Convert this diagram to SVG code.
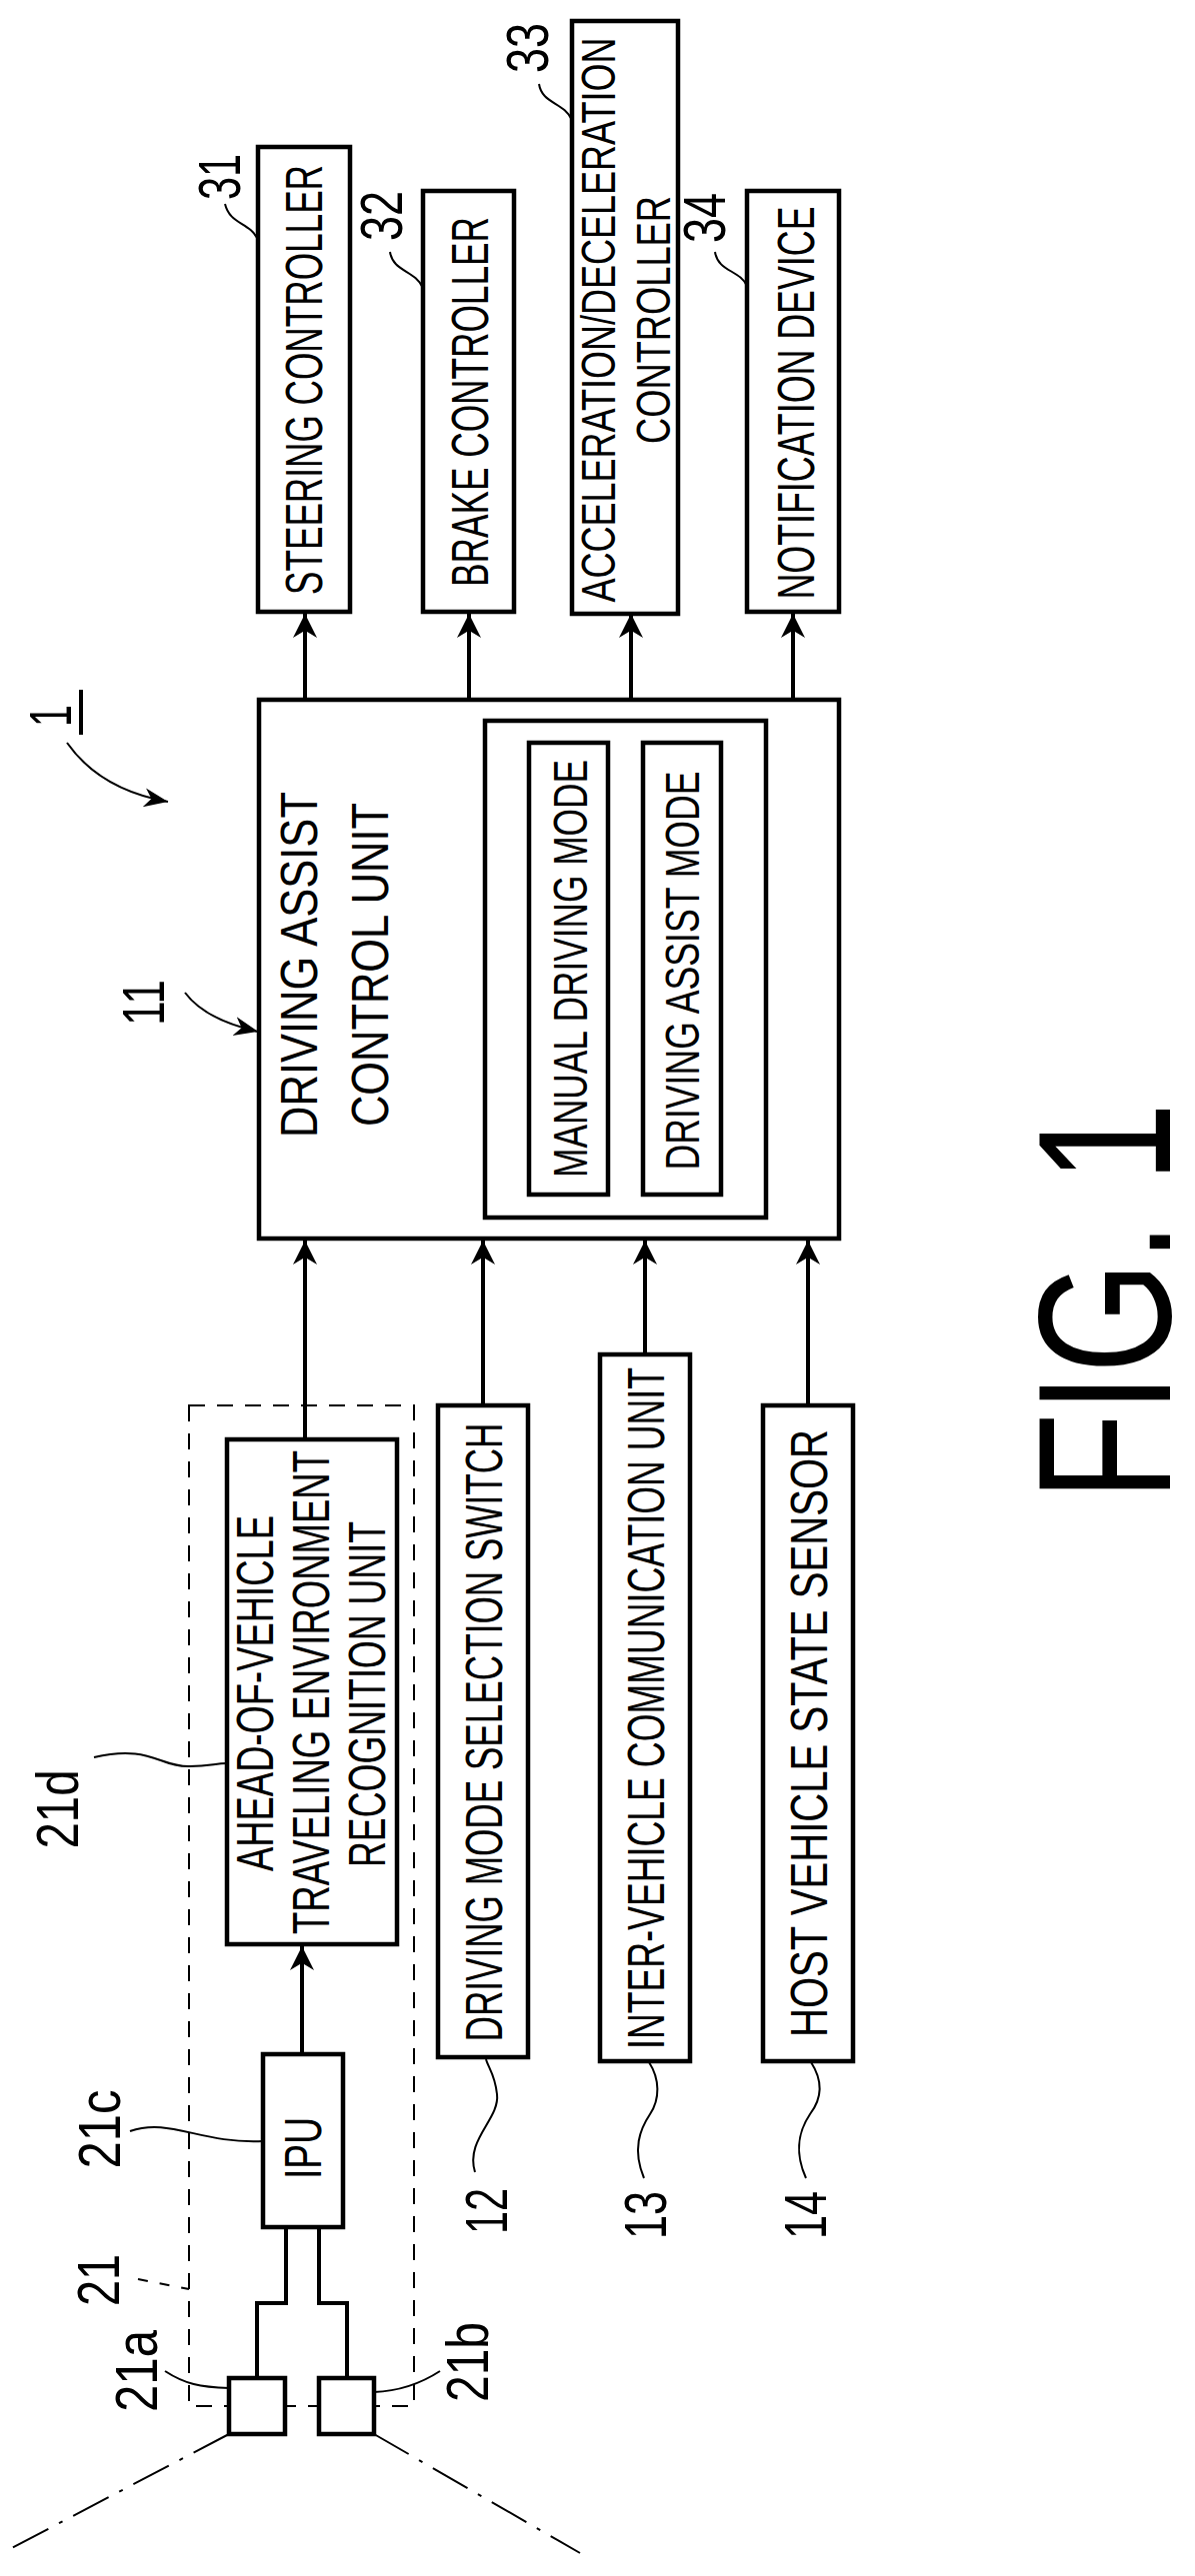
<svg xmlns="http://www.w3.org/2000/svg" width="1195" height="2577" viewBox="0 0 1195 2577">
<style>
.b{fill:#fff;stroke:#000;stroke-width:4.5}
.t{font-family:"Liberation Sans",Arial,sans-serif;font-size:52px;text-anchor:middle;dominant-baseline:central;fill:#000}
.s{font-size:48px}
.n{font-family:"Liberation Sans",Arial,sans-serif;font-size:60px;text-anchor:middle;dominant-baseline:central;fill:#000}
.c{fill:none;stroke:#000;stroke-width:4}
.l{fill:none;stroke:#000;stroke-width:2}
</style>
<defs>
<marker id="ah" viewBox="0 0 10 10" refX="10" refY="5" markerWidth="6" markerHeight="6" markerUnits="strokeWidth" orient="auto">
<path d="M0,0 L10,5 L0,10 L3,5 Z" fill="#000"/>
</marker>
<marker id="ah2" viewBox="0 0 10 10" refX="10" refY="5" markerWidth="12" markerHeight="12" markerUnits="strokeWidth" orient="auto">
<path d="M0,1 L10,5 L0,9 L3,5 Z" fill="#000"/>
</marker>
</defs>
<rect width="1195" height="2577" fill="#fff"/>

<g id="connectors">
<line class="c" x1="305" y1="700" x2="305" y2="614" marker-end="url(#ah)"/>
<line class="c" x1="469" y1="700" x2="469" y2="614" marker-end="url(#ah)"/>
<line class="c" x1="631" y1="700" x2="631" y2="614" marker-end="url(#ah)"/>
<line class="c" x1="793" y1="700" x2="793" y2="614" marker-end="url(#ah)"/>
<line class="c" x1="305" y1="1440" x2="305" y2="1241" marker-end="url(#ah)"/>
<line class="c" x1="483" y1="1406" x2="483" y2="1241" marker-end="url(#ah)"/>
<line class="c" x1="645" y1="1355" x2="645" y2="1241" marker-end="url(#ah)"/>
<line class="c" x1="808" y1="1406" x2="808" y2="1241" marker-end="url(#ah)"/>
<line class="c" x1="302" y1="2055" x2="302" y2="1947" marker-end="url(#ah)"/>
<polyline class="c" points="286,2228 286,2304 257,2304 257,2379"/>
<polyline class="c" points="319,2228 319,2304 347,2304 347,2379"/>
<line class="l" x1="229" y1="2435" x2="8" y2="2551" stroke-dasharray="40,12,4,12"/>
<line class="l" x1="374" y1="2435" x2="580" y2="2554" stroke-dasharray="40,12,4,12"/>
</g>

<g id="boundary-21">
<rect x="189" y="1406" width="225" height="1001" fill="none" stroke="#000" stroke-width="2" stroke-dasharray="16,12"/>
</g>

<g id="node-11">
<rect class="b" x="259" y="700" width="580" height="539"/>
<text class="t" transform="translate(299,965) rotate(-90)" textLength="346" lengthAdjust="spacingAndGlyphs">DRIVING ASSIST</text>
<text class="t" transform="translate(370,965) rotate(-90)" textLength="324" lengthAdjust="spacingAndGlyphs">CONTROL UNIT</text>
<rect class="b" x="485" y="721" width="281" height="497"/>
<rect class="b" x="529" y="743" width="79" height="452"/>
<text class="t s" transform="translate(570,969) rotate(-90)" textLength="418" lengthAdjust="spacingAndGlyphs">MANUAL DRIVING MODE</text>
<rect class="b" x="643" y="743" width="78" height="452"/>
<text class="t s" transform="translate(682,971) rotate(-90)" textLength="399" lengthAdjust="spacingAndGlyphs">DRIVING ASSIST MODE</text>
</g>

<g id="node-31">
<rect class="b" x="258" y="147" width="92" height="465"/>
<text class="t" transform="translate(304,380) rotate(-90)" textLength="430" lengthAdjust="spacingAndGlyphs">STEERING CONTROLLER</text>
</g>
<g id="node-32">
<rect class="b" x="423" y="191" width="91" height="421"/>
<text class="t" transform="translate(470,402) rotate(-90)" textLength="370" lengthAdjust="spacingAndGlyphs">BRAKE CONTROLLER</text>
</g>
<g id="node-33">
<rect class="b" x="572" y="21" width="106" height="593"/>
<text class="t s" transform="translate(598,320) rotate(-90)" textLength="565" lengthAdjust="spacingAndGlyphs">ACCELERATION/DECELERATION</text>
<text class="t s" transform="translate(653,320) rotate(-90)" textLength="248" lengthAdjust="spacingAndGlyphs">CONTROLLER</text>
</g>
<g id="node-34">
<rect class="b" x="747" y="191" width="92" height="421"/>
<text class="t" transform="translate(796,403) rotate(-90)" textLength="393" lengthAdjust="spacingAndGlyphs">NOTIFICATION DEVICE</text>
</g>

<g id="node-21d">
<rect class="b" x="227" y="1440" width="170" height="505"/>
<text class="t" transform="translate(255,1694) rotate(-90)" textLength="356" lengthAdjust="spacingAndGlyphs">AHEAD-OF-VEHICLE</text>
<text class="t" transform="translate(311,1693) rotate(-90)" textLength="484" lengthAdjust="spacingAndGlyphs">TRAVELING ENVIRONMENT</text>
<text class="t" transform="translate(367,1695) rotate(-90)" textLength="346" lengthAdjust="spacingAndGlyphs">RECOGNITION UNIT</text>
</g>
<g id="node-21c">
<rect class="b" x="263" y="2055" width="80" height="173"/>
<text class="t" transform="translate(303,2149) rotate(-90)" textLength="62" lengthAdjust="spacingAndGlyphs">IPU</text>
</g>
<g id="node-21a"><rect class="b" x="229" y="2379" width="56" height="56"/></g>
<g id="node-21b"><rect class="b" x="319" y="2379" width="55" height="56"/></g>

<g id="node-12">
<rect class="b" x="438" y="1406" width="90" height="652"/>
<text class="t" transform="translate(484,1733) rotate(-90)" textLength="619" lengthAdjust="spacingAndGlyphs">DRIVING MODE SELECTION SWITCH</text>
</g>
<g id="node-13">
<rect class="b" x="600" y="1355" width="90" height="707"/>
<text class="t" transform="translate(646,1709) rotate(-90)" textLength="682" lengthAdjust="spacingAndGlyphs">INTER-VEHICLE COMMUNICATION UNIT</text>
</g>
<g id="node-14">
<rect class="b" x="763" y="1406" width="90" height="656"/>
<text class="t" transform="translate(809,1734) rotate(-90)" textLength="608" lengthAdjust="spacingAndGlyphs">HOST VEHICLE STATE SENSOR</text>
</g>

<g id="labels">
<text class="n" transform="translate(219,177) rotate(-90)" textLength="46" lengthAdjust="spacingAndGlyphs">31</text>
<path class="l" d="M225,204 C230,225 250,222 258,240"/>
<text class="n" transform="translate(381,216) rotate(-90)" textLength="50" lengthAdjust="spacingAndGlyphs">32</text>
<path class="l" d="M390,252 C393,272 415,270 423,288"/>
<text class="n" transform="translate(527,48) rotate(-90)" textLength="50" lengthAdjust="spacingAndGlyphs">33</text>
<path class="l" d="M539,84 C542,104 564,102 572,120"/>
<text class="n" transform="translate(704,218) rotate(-90)" textLength="50" lengthAdjust="spacingAndGlyphs">34</text>
<path class="l" d="M715,252 C718,272 740,270 747,286"/>
<text class="n" transform="translate(50,716) rotate(-90)" textLength="22" lengthAdjust="spacingAndGlyphs">1</text>
<line x1="81" y1="690" x2="81" y2="735" stroke="#000" stroke-width="4"/>
<path class="l" d="M67,743 Q100,790 168,802" marker-end="url(#ah2)"/>
<text class="n" transform="translate(143,1003) rotate(-90)" textLength="46" lengthAdjust="spacingAndGlyphs">11</text>
<path class="l" d="M185,993 Q205,1020 258,1032" marker-end="url(#ah2)"/>
<text class="n" transform="translate(57,1810) rotate(-90)" textLength="79" lengthAdjust="spacingAndGlyphs">21d</text>
<path class="l" d="M94,1758 C150,1745 160,1768 190,1767 C210,1767 215,1764 227,1764"/>
<text class="n" transform="translate(99,2130) rotate(-90)" textLength="79" lengthAdjust="spacingAndGlyphs">21c</text>
<path class="l" d="M130,2132 C170,2118 200,2145 263,2142"/>
<text class="n" transform="translate(98,2281) rotate(-90)" textLength="52" lengthAdjust="spacingAndGlyphs">21</text>
<path class="l" d="M138,2280 L189,2290" stroke-dasharray="10,12"/>
<text class="n" transform="translate(136,2372) rotate(-90)" textLength="82" lengthAdjust="spacingAndGlyphs">21a</text>
<path class="l" d="M165,2372 C185,2385 200,2388 229,2389"/>
<text class="n" transform="translate(467,2363) rotate(-90)" textLength="80" lengthAdjust="spacingAndGlyphs">21b</text>
<path class="l" d="M440,2372 C420,2385 400,2392 374,2393"/>
<text class="n" transform="translate(486,2212) rotate(-90)" textLength="46" lengthAdjust="spacingAndGlyphs">12</text>
<path class="l" d="M475,2173 C465,2140 500,2120 497,2095 C495,2075 488,2068 486,2060"/>
<text class="n" transform="translate(645,2216) rotate(-90)" textLength="48" lengthAdjust="spacingAndGlyphs">13</text>
<path class="l" d="M644,2179 C632,2150 640,2130 650,2115 C660,2100 660,2080 649,2063"/>
<text class="n" transform="translate(805,2216) rotate(-90)" textLength="48" lengthAdjust="spacingAndGlyphs">14</text>
<path class="l" d="M806,2179 C793,2150 800,2130 810,2115 C823,2098 822,2080 811,2063"/>
<text transform="translate(1104,1302) rotate(-90)" font-family="Liberation Sans, Arial, sans-serif" font-size="190" text-anchor="middle" dominant-baseline="central" textLength="398" lengthAdjust="spacingAndGlyphs">FIG. 1</text>
</g>
</svg>
